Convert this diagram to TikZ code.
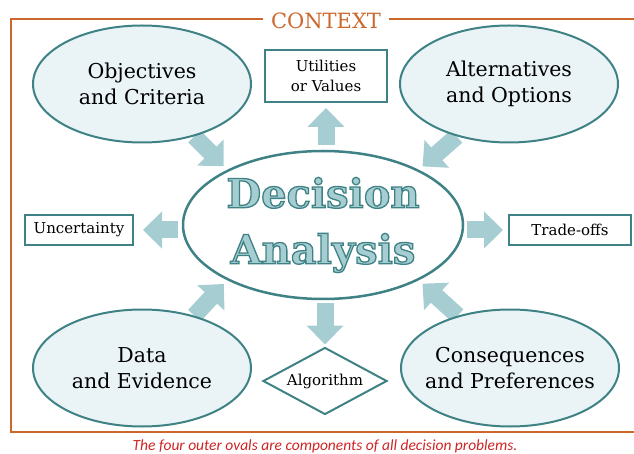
\documentclass[tikz,border=0pt]{standalone}
\usepackage{fontspec}
\setmainfont{DejaVu Serif}
\newfontfamily\bigfont{DejaVu Serif}
\newfontfamily\notefont{Carlito}
\usetikzlibrary{arrows.meta}
\usetikzlibrary{shapes.geometric, backgrounds}
\definecolor{tealline}{RGB}{62,130,133}
\definecolor{ovalfill}{RGB}{234,244,246}
\definecolor{arrowfill}{RGB}{166,206,210}
\definecolor{contextorange}{RGB}{204,104,44}
\definecolor{notered}{RGB}{208,36,36}
% Umrissschrift (fill + stroke)
\newcommand{\umriss}[1]{\special{pdf:literal direct 2 Tr 1.3 w 0.243 0.51 0.522 RG}#1\special{pdf:literal direct 0 Tr}}

\begin{document}
\begin{tikzpicture}[x=1pt, y=-1pt,
    oval/.style={ellipse, draw=tealline, line width=2pt, fill=ovalfill, inner sep=0pt,
      minimum width=218pt, minimum height=117pt, align=center, font=\fontsize{20.5}{26}\selectfont},
    infobox/.style={draw=tealline, line width=2pt, fill=white, align=center,
      font=\fontsize{15}{20}\selectfont},
    bigarrow/.style={draw=arrowfill, line width=17pt, -{Triangle[length=19pt,width=36pt]}}]
    \useasboundingbox (0,0) rectangle (634,454);
    % Rahmen CONTEXT
    \node[text=contextorange, font=\fontsize{21}{21}\selectfont, inner xsep=8pt] (ctx) at (326,21) {CONTEXT};
    \draw[contextorange, line width=2.5pt] (ctx.west |- 0,19) -- (11,19) -- (11,432) -- (634,432);
    \draw[contextorange, line width=2.5pt] (ctx.east |- 0,19) -- (634,19);
    % Zentrum
    \node[ellipse, draw=tealline, line width=2.5pt, fill=white, minimum width=280pt, minimum height=148pt,
      align=center, inner sep=0pt, text=arrowfill, font=\bigfont\bfseries\fontsize{40}{56}\selectfont] (da) at (323,225)
      {\umriss{Decision}\\\umriss{Analysis}};
    % Die vier Ovale
    \foreach \name/\x/\y/\text in {obj/142/84/{Objectives\\and Criteria}, alt/509/84/{Alternatives\\and Options},
        dat/142/368/{Data\\and Evidence}, cons/510/368/{Consequences\\\makebox[150pt]{and Preferences}}} {
        \node[oval] (\name) at (\x,\y) {\text};
    }
    % Kaesten
    \node[infobox, minimum width=122pt, minimum height=52pt] (util) at (326,76) {Utilities\\or Values};
    \node[infobox, minimum width=108pt, minimum height=30pt] (unc) at (79,230) {Uncertainty};
    \node[infobox, minimum width=122pt, minimum height=30pt] (trade) at (570,230) {Trade-offs};
    \node[diamond, draw=tealline, line width=2pt, aspect=2, inner sep=0pt, minimum width=124pt,
      minimum height=67pt, font=\fontsize{15}{18}\selectfont] (alg) at (325,381) {Algorithm};
    % Pfeile
    \begin{scope}[on background layer]
        \foreach \von/\nach in {obj.-45/da.150, alt.225/da.30, dat.45/da.210, cons.135/da.-30} {
            \draw[bigarrow, shorten >=5pt] (\von) -- (\nach);
        }
        \draw[bigarrow, shorten <=5pt, shorten >=5pt] (da.north -| util.south) -- (util.south);
        \draw[bigarrow, shorten <=3pt, shorten >=2pt] (da.south -| alg.north) -- (alg.north);
        \draw[bigarrow, shorten <=4pt, shorten >=9pt] (da.west |- unc.east) -- (unc.east);
        \draw[bigarrow, shorten <=3pt, shorten >=5pt] (da.east |- trade.west) -- (trade.west);
    \end{scope}
    % Fussnote
    \node[text=notered, font=\notefont\itshape\fontsize{15.5}{16}\selectfont] (note) at (325,446)
        {The four outer ovals are components of all decision problems.};
\end{tikzpicture}
\end{document}
